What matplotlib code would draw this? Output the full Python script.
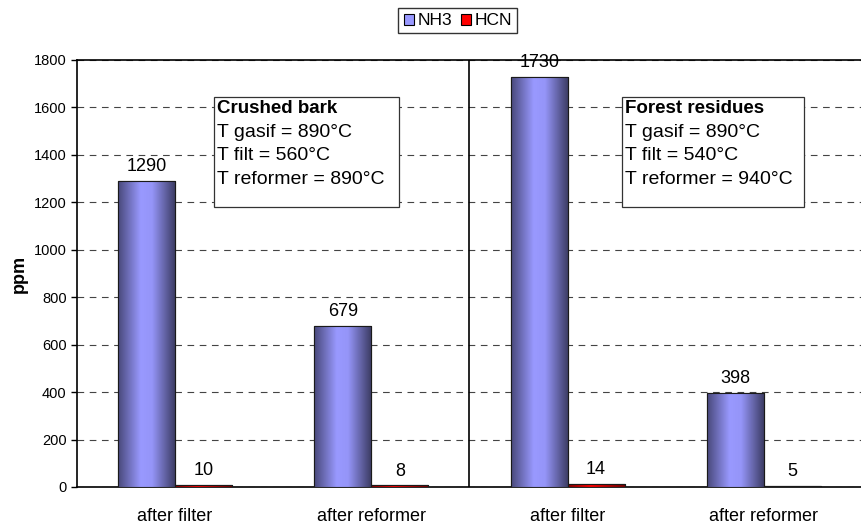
import numpy as np
import matplotlib
matplotlib.use("Agg")
import matplotlib.pyplot as plt
from matplotlib.colors import LinearSegmentedColormap
from matplotlib.patches import Rectangle

plt.rcParams['font.family'] = ['Liberation Sans', 'DejaVu Sans']

# data
categories = ["after filter", "after reformer", "after filter", "after reformer"]
nh3 = [1290, 679, 1730, 398]
hcn = [10, 8, 14, 5]
box_titles = ["Crushed bark", "Forest residues"]
box_lines = [["T gasif = 890°C", "T filt = 560°C", "T reformer = 890°C"],
             ["T gasif = 890°C", "T filt = 540°C", "T reformer = 940°C"]]

fig = plt.figure(figsize=(8.62, 5.27), dpi=100)
ax = fig.add_axes([77 / 862, 1 - 487 / 527, 1 - 77 / 862, (487 - 60) / 527])

x = np.arange(len(categories))
w = 0.29

blue_cm = LinearSegmentedColormap.from_list(
    "bl", [(0, "#48487a"), (0.4, "#9999ff"), (0.6, "#9595f8"), (1, "#3d3d66")])
red_cm = LinearSegmentedColormap.from_list(
    "rd", [(0, "#800000"), (0.4, "#ff0000"), (1, "#700000")])

b1 = ax.bar(x - w / 2, nh3, w, color="#9999ff", edgecolor="black", linewidth=0.8,
            label="NH3", zorder=3)
b2 = ax.bar(x + w / 2, hcn, w, color="#ff0000", edgecolor="black", linewidth=0.8,
            label="HCN", zorder=3)

# cylinder-like shading
grad = np.linspace(0, 1, 256).reshape(1, -1)
for bars, cm in ((b1, blue_cm), (b2, red_cm)):
    for p in bars:
        x0, y0 = p.get_x(), p.get_y()
        im = ax.imshow(grad, cmap=cm, aspect="auto", zorder=3.5,
                       extent=[x0, x0 + p.get_width(), y0, y0 + p.get_height()])
        im.set_clip_path(p)
        ax.add_patch(Rectangle((x0, y0), p.get_width(), p.get_height(), fill=False,
                               edgecolor="#1a1a1a", linewidth=0.8, zorder=4))

for bars, vals in ((b1, nh3), (b2, hcn)):
    for p, v in zip(bars, vals):
        ax.annotate(str(v), (p.get_x() + p.get_width() / 2, v),
                    xytext=(0, 4), textcoords="offset points",
                    ha="center", va="bottom", fontsize=13, zorder=6)

ax.set_xlim(-0.5, 3.5)
ax.set_ylim(0, 1800)
ax.set_yticks(np.arange(0, 1801, 200))
ax.set_xticks(x)
ax.set_xticklabels(categories, fontsize=13)
ax.tick_params(axis='x', length=0, pad=15)
ax.tick_params(axis='y', labelsize=10.5, direction='out', length=4, width=1)
ax.set_ylabel("ppm", fontsize=13, fontweight="bold", labelpad=4)

ax.yaxis.grid(True, linestyle=(0, (6, 5)), color="#444444", linewidth=0.8, zorder=0)
ax.axvline(1.5, color="black", linewidth=1.2, zorder=2)
for s in ax.spines.values():
    s.set_linewidth(1.2)
    s.set_color("black")

# info boxes
box_x = [214, 622]
box_w = [185, 182]
for bx, bw, title, lines in zip(box_x, box_w, box_titles, box_lines):
    fx = bx / 862
    fig.patches.append(Rectangle((fx, 1 - 207 / 527), bw / 862, 110 / 527,
                                 transform=fig.transFigure, facecolor="white",
                                 edgecolor="#333333", linewidth=0.9, zorder=7))
    fig.text(fx + 0.004, 1 - 100 / 527, title, fontsize=13.5, fontweight="bold",
             va="top", ha="left", zorder=8)
    fig.text(fx + 0.004, 1 - 124 / 527, "\n".join(lines), fontsize=14,
             va="top", ha="left", linespacing=1.5, zorder=8)

fig.legend(handles=[b1, b2], labels=["NH3", "HCN"], loc="upper center",
           bbox_to_anchor=(458 / 862, 1 - 8 / 527), ncol=2, fontsize=12.5,
           frameon=True, fancybox=False, edgecolor="black", handlelength=0.6,
           handleheight=0.6, handletextpad=0.2, columnspacing=0.5,
           borderpad=0.3, borderaxespad=0)

fig.savefig("out.png", dpi=100)
